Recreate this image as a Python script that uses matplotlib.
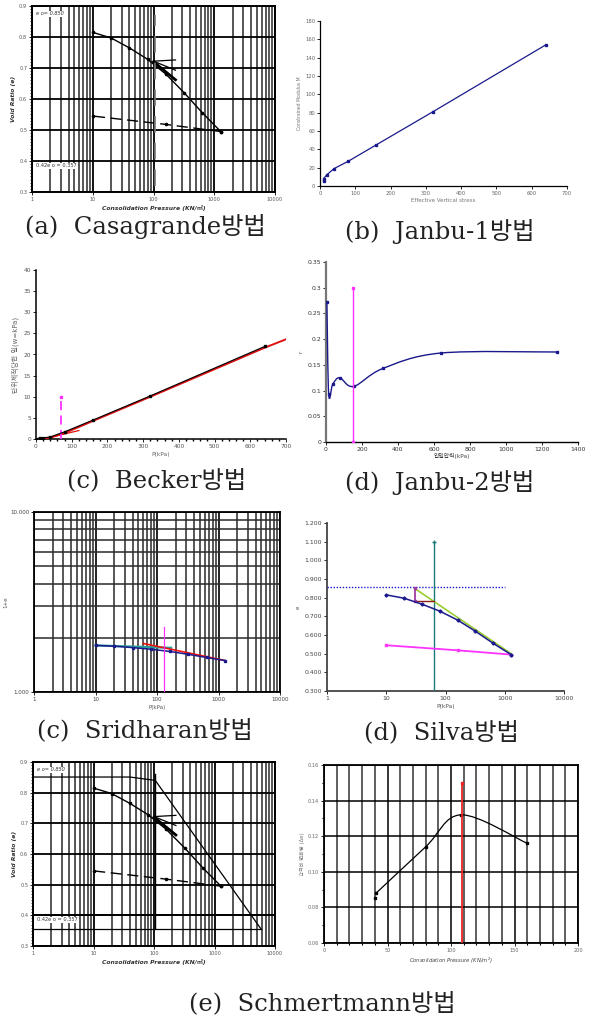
"""Eight-panel comparison of preconsolidation pressure methods (Korean captions)."""

import matplotlib

matplotlib.use("Agg")
import matplotlib.pyplot as plt  # noqa: E402
import numpy as np  # noqa: E402
from matplotlib.patches import PathPatch  # noqa: E402
from matplotlib.path import Path  # noqa: E402
from matplotlib.ticker import FixedLocator, MultipleLocator, NullFormatter  # noqa: E402

W, H = 589, 1022
CAP_FONT = ["DejaVu Serif", "Noto Sans CJK KR"]
SMALL_FONT = ["DejaVu Sans", "Noto Sans CJK KR"]

# ---------------------------------------------------------------
# data
# ---------------------------------------------------------------
# oedometer loading branch (used by Casagrande, Silva, Schmertmann)
load_p = [10, 20, 40, 80, 160, 320, 640, 1280]
load_e = [0.815, 0.797, 0.765, 0.728, 0.680, 0.620, 0.555, 0.495]
unload_p = [1280, 160, 10]
unload_e = [0.495, 0.518, 0.545]

# Casagrande construction
cas_p = [100, 230]
cas_horiz = [0.722, 0.726]
cas_tangent = [0.722, 0.693]
cas_bisect = [0.722, 0.662]

# Schmertmann reconstructed line
sch_p = [1, 40, 105, 5800]
sch_e = [0.851, 0.851, 0.840, 0.357]

# Janbu-1: constrained modulus
jb1_p = [10, 10, 20, 40, 80, 160, 320, 640]
jb1_m = [5, 8, 12.5, 19, 27, 45, 81, 154]

# Becker: work per unit volume
bk_p = [0, 10, 20, 40, 80, 160, 320, 640]
bk_w = [0.0, 0.2, 0.25, 0.5, 1.7, 4.5, 10.2, 21.9]
bk_fit_p = [0, 40, 80, 160, 320, 640, 700]
bk_fit_w = [0.0, 0.3, 1.4, 4.3, 10.0, 21.6, 23.6]
bk_low_p = [30, 120]
bk_low_w = [0.2, 2.0]
bk_pc = 70

# Janbu-2: resistance number r
jb2_p = [5, 15, 37, 76, 153, 316, 638, 1281]
jb2_r = [0.272, 0.093, 0.112, 0.125, 0.108, 0.143, 0.173, 0.175]
jb2_pc = 150

# Sridharan: 1+e
sri_p = load_p
sri_1e = [1 + e for e in load_e]
sri_red_p = [60, 1280]
sri_red_1e = [1.86, 1.495]
sri_teal_p = [10, 170]
sri_teal_1e = [1.815, 1.76]
sri_pc = 130

# Silva construction
sil_e0 = 0.855
sil_green_p = [30, 1280]
sil_green_e = [0.850, 0.500]
sil_pc = 65

# Schmertmann second plot
sc2_p = [40, 41, 80, 108, 160]
sc2_de = [0.085, 0.088, 0.114, 0.132, 0.116]
sc2_pc = 109


def add_ax(x0, y0, x1, y1):
    return fig.add_axes([x0 / W, 1 - y1 / H, (x1 - x0) / W, (y1 - y0) / H])


def smooth(ax, x, y, **kw):
    """Catmull-Rom curve through the data points, drawn as bezier path."""
    pts = np.column_stack([x, y]).astype(float)
    n = len(pts)
    verts = [pts[0]]
    codes = [Path.MOVETO]
    for i in range(n - 1):
        p0 = pts[max(i - 1, 0)]
        p1 = pts[i]
        p2 = pts[i + 1]
        p3 = pts[min(i + 2, n - 1)]
        verts += [p1 + (p2 - p0) / 6, p2 - (p3 - p1) / 6, p2]
        codes += [Path.CURVE4] * 3
    ax.add_patch(PathPatch(Path(verts, codes), fill=False, **kw))


def tick_style(ax, size=4.2, color="#555555"):
    ax.tick_params(labelsize=size, labelcolor=color, length=2, width=0.6,
                   pad=1.5)
    for lab in ax.get_xticklabels() + ax.get_yticklabels():
        lab.set_family(SMALL_FONT)


def casagrande(ax, schmertmann=False):
    ax.set_xscale("log")
    ax.set_xlim(1, 10000)
    ax.set_ylim(0.3, 0.9)
    ax.xaxis.set_major_locator(FixedLocator([1, 10, 100, 1000, 10000]))
    ax.set_xticklabels(["1", "10", "100", "1000", "10000"])
    ax.xaxis.set_minor_formatter(NullFormatter())
    ax.yaxis.set_major_locator(MultipleLocator(0.1))
    ax.yaxis.set_minor_locator(MultipleLocator(0.01))
    ax.set_yticks(np.round(np.arange(0.3, 0.91, 0.1), 1))
    ax.set_yticklabels([f"{v:.1f}" for v in np.arange(0.3, 0.91, 0.1)])
    ax.grid(which="major", color="black", lw=1.3)
    ax.grid(which="minor", axis="x", color="#3a3a3a", lw=1.2)
    ax.tick_params(which="minor", axis="y", length=1.5, width=0.5)
    ax.tick_params(which="minor", axis="x", length=0)
    for s in ax.spines.values():
        s.set_linewidth(1.4)
    tick_style(ax, 3.6)
    ax.set_xlabel("Consolidation Pressure (KN/㎡)", fontsize=4.3,
                  style="italic", weight="bold", color="#333",
                  family=SMALL_FONT, labelpad=2)
    ax.set_ylabel("Void Ratio (e)", fontsize=4.3, style="italic",
                  weight="bold", color="#333", labelpad=2)
    ax.plot(load_p, load_e, color="black", lw=1.0, marker="o", ms=1.6,
            zorder=4)
    ax.plot(unload_p, unload_e, color="black", lw=1.0, ls=(0, (8, 4)),
            marker="o", ms=1.6, zorder=4)
    ax.plot(cas_p, cas_horiz, color="black", lw=0.9, zorder=4)
    ax.plot(cas_p, cas_tangent, color="black", lw=0.9, zorder=4)
    ax.plot(cas_p, cas_bisect, color="black", lw=0.9, zorder=4)
    ax.plot([100, 230], [0.72, 0.662], color="black", lw=2.0, zorder=4)
    ax.text(1.15, 0.875, "e o= 0.850", fontsize=3.6, color="#333",
            style="italic", va="center", zorder=5,
            bbox=dict(fc="white", ec="none", pad=0.3))
    ax.text(1.15, 0.385, "0.42e o = 0.357", fontsize=3.6, color="#333",
            va="center", zorder=5,
            bbox=dict(fc="white", ec="none", pad=0.3))
    if schmertmann:
        ax.plot(sch_p, sch_e, color="black", lw=0.9, zorder=4)
        ax.plot([1, 5800], [0.357, 0.357], color="black", lw=0.9, zorder=4)
        ax.plot([105, 105], [0.36, 0.862], color="black", lw=1.0, zorder=4)
    else:
        ax.plot([105, 105], [0.32, 0.87], color="#777777", lw=1.2,
                ls=(0, (10, 6)), zorder=4)


fig = plt.figure(figsize=(W / 100, H / 100), dpi=100)
fig.patch.set_facecolor("white")

# ---------------------------------------------------------------
# (a) Casagrande
# ---------------------------------------------------------------
ax_a = add_ax(32, 6, 275, 192)
casagrande(ax_a)

# ---------------------------------------------------------------
# (b) Janbu-1
# ---------------------------------------------------------------
ax_b = add_ax(320, 21, 567, 186)
ax_b.plot(jb1_p, jb1_m, color="#1a1a8c", lw=0.9, marker="s", ms=1.6)
ax_b.set_xlim(0, 700)
ax_b.set_ylim(0, 180)
ax_b.xaxis.set_major_locator(MultipleLocator(100))
ax_b.yaxis.set_major_locator(MultipleLocator(20))
for s in ("top", "right"):
    ax_b.spines[s].set_visible(False)
for s in ("left", "bottom"):
    ax_b.spines[s].set_linewidth(0.9)
tick_style(ax_b, 3.8, "#666666")
ax_b.set_xlabel("Effective Vertical stress", fontsize=4.0, color="#777",
                labelpad=1.5)
ax_b.set_ylabel("Constrained Modulus M", fontsize=3.3, color="#777",
                labelpad=2)

# ---------------------------------------------------------------
# (c) Becker
# ---------------------------------------------------------------
ax_c = add_ax(36, 270, 286, 439)
ax_c.plot(bk_fit_p, bk_fit_w, color="#dd1111", lw=1.4, zorder=3)
ax_c.plot(bk_low_p, bk_low_w, color="#dd1111", lw=0.9, zorder=3)
ax_c.plot(bk_p, bk_w, color="black", lw=0.8, marker="s", ms=1.8, zorder=4)
ax_c.plot([bk_pc, bk_pc], [0, 10], color="#ff33ff", lw=1.3,
          ls=(0, (5, 3)), zorder=3)
ax_c.plot([bk_pc], [10], color="#ff33ff", marker="s", ms=1.8, zorder=4)
ax_c.set_xlim(0, 700)
ax_c.set_ylim(0, 40)
ax_c.xaxis.set_major_locator(MultipleLocator(100))
ax_c.xaxis.set_minor_locator(MultipleLocator(20))
ax_c.yaxis.set_major_locator(MultipleLocator(5))
ax_c.tick_params(which="minor", length=1.5, width=1.0)
for s in ("top", "right"):
    ax_c.spines[s].set_visible(False)
for s in ("left", "bottom"):
    ax_c.spines[s].set_linewidth(1.1)
tick_style(ax_c, 4.2, "#555555")
ax_c.set_xlabel("P(kPa)", fontsize=4.2, color="#666", labelpad=2)
ax_c.set_ylabel("단위체적당한 일(w=kPa)", fontsize=5.0, color="#666",
                family=SMALL_FONT, labelpad=3)

# ---------------------------------------------------------------
# (d) Janbu-2
# ---------------------------------------------------------------
ax_d = add_ax(326, 262, 578, 442)
smooth(ax_d, jb2_p, jb2_r, edgecolor="#1a1a8c", lw=1.0, zorder=3)
ax_d.plot(jb2_p, jb2_r, ls="none", color="#1a1a8c", marker="s", ms=1.8,
          zorder=4)
ax_d.plot([jb2_pc, jb2_pc], [0, 0.3], color="#ff33ff", lw=1.0,
          marker="s", ms=2.0, zorder=4)
ax_d.set_xlim(0, 1400)
ax_d.set_ylim(0, 0.35)
ax_d.xaxis.set_major_locator(MultipleLocator(200))
ax_d.set_yticks(np.round(np.arange(0, 0.351, 0.05), 2))
ax_d.set_yticklabels(["0", "0.05", "0.1", "0.15", "0.2", "0.25", "0.3",
                      "0.35"])
for s in ("top", "right"):
    ax_d.spines[s].set_visible(False)
ax_d.spines["left"].set_linewidth(1.6)
ax_d.spines["left"].set_color("#777777")
ax_d.spines["bottom"].set_linewidth(1.0)
tick_style(ax_d, 4.4, "#333333")
ax_d.set_xlabel("압밀압력(kPa)", fontsize=4.2, color="#444",
                family=SMALL_FONT, labelpad=1)
ax_d.set_ylabel("r", fontsize=4.0, color="#444", labelpad=3)

# ---------------------------------------------------------------
# (c) Sridharan
# ---------------------------------------------------------------
ax_s = add_ax(34, 512, 280, 692)
ax_s.set_xscale("log")
ax_s.set_yscale("log")
ax_s.set_xlim(1, 10000)
ax_s.set_ylim(1, 10)
ax_s.grid(which="major", color="black", lw=1.2)
ax_s.grid(which="minor", color="#2a2a2a", lw=1.1)
ax_s.xaxis.set_major_locator(FixedLocator([1, 10, 100, 1000, 10000]))
ax_s.set_xticklabels(["1", "10", "100", "1000", "10000"])
ax_s.xaxis.set_minor_formatter(NullFormatter())
ax_s.yaxis.set_major_locator(FixedLocator([1, 10]))
ax_s.set_yticklabels(["1.000", "10.000"])
ax_s.yaxis.set_minor_formatter(NullFormatter())
ax_s.tick_params(which="both", length=0)
for s in ax_s.spines.values():
    s.set_linewidth(1.3)
ax_s.plot(sri_teal_p, sri_teal_1e, color="#2aa198", lw=1.6, zorder=3)
ax_s.plot(sri_red_p, sri_red_1e, color="#ee1111", lw=1.2, zorder=3)
ax_s.plot(sri_p, sri_1e, color="#1a1a8c", lw=1.1, marker="s", ms=1.8,
          zorder=4)
ax_s.plot([sri_pc, sri_pc], [1, 2.3], color="#ff33ff", lw=0.9, zorder=4)
tick_style(ax_s, 4.0, "#444444")
ax_s.set_xlabel("P(kPa)", fontsize=4.0, color="#555", labelpad=2)
ax_s.set_ylabel("1+e", fontsize=4.0, color="#555", labelpad=1)

# ---------------------------------------------------------------
# (d) Silva
# ---------------------------------------------------------------
ax_v = add_ax(327, 523, 564, 691)
ax_v.set_xscale("log")
ax_v.set_xlim(1, 10000)
ax_v.set_ylim(0.3, 1.2)
ax_v.xaxis.set_major_locator(FixedLocator([1, 10, 100, 1000, 10000]))
ax_v.set_xticklabels(["1", "10", "100", "1000", "10000"])
ax_v.xaxis.set_minor_formatter(NullFormatter())
ax_v.tick_params(which="minor", length=0)
ax_v.set_yticks(np.round(np.arange(0.3, 1.201, 0.1), 1))
ax_v.set_yticklabels([f"{v:.3f}" for v in np.arange(0.3, 1.201, 0.1)])
for s in ("top", "right"):
    ax_v.spines[s].set_visible(False)
for s in ("left", "bottom"):
    ax_v.spines[s].set_linewidth(1.3)
    ax_v.spines[s].set_color("#444444")
ax_v.plot([1, 1000], [sil_e0, sil_e0], color="#1a1acc", lw=1.0,
          ls=(0, (1, 1.2)), zorder=3)
ax_v.plot([sil_pc, sil_pc], [0.3, 1.1], color="#1a7a7a", lw=1.0,
          marker="+", markevery=[1], ms=3, zorder=3)
ax_v.plot(sil_green_p, sil_green_e, color="#9acd32", lw=1.2, zorder=3)
ax_v.plot([30, sil_pc], [0.78, 0.78], color="#8b1a1a", lw=1.0, zorder=3)
ax_v.plot([30, 30], [0.78, 0.85], color="#a03ca0", lw=1.3, marker="s",
          ms=1.8, zorder=4)
ax_v.plot(unload_p, unload_e, color="#ff33ff", lw=1.3, marker="s", ms=2.0,
          zorder=4)
ax_v.plot(load_p, load_e, color="#1a1a8c", lw=1.1, marker="D", ms=1.6,
          zorder=5)
tick_style(ax_v, 4.4, "#444444")
ax_v.set_xlabel("P(kPa)", fontsize=4.2, color="#555", labelpad=2)
ax_v.set_ylabel("e", fontsize=4.0, color="#555", labelpad=3)

# ---------------------------------------------------------------
# (e) Schmertmann
# ---------------------------------------------------------------
ax_e1 = add_ax(33, 762, 275, 946)
casagrande(ax_e1, schmertmann=True)
ax_e1.axhline(0.4, color="black", lw=1.3)

ax_e2 = add_ax(324, 765, 578, 943)
ax_e2.set_xlim(0, 200)
ax_e2.set_ylim(0.06, 0.16)
ax_e2.xaxis.set_major_locator(MultipleLocator(50))
ax_e2.xaxis.set_minor_locator(MultipleLocator(10))
ax_e2.yaxis.set_major_locator(MultipleLocator(0.02))
ax_e2.yaxis.set_minor_locator(MultipleLocator(0.01))
ax_e2.set_yticklabels([f"{v:.2f}" for v in ax_e2.get_yticks()])
ax_e2.grid(which="major", color="black", lw=1.1)
ax_e2.grid(which="minor", axis="x", color="#333333", lw=1.1)
ax_e2.tick_params(which="minor", length=1.5, width=0.8)
for s in ax_e2.spines.values():
    s.set_linewidth(1.3)
smooth(ax_e2, sc2_p[1:], sc2_de[1:], edgecolor="black", lw=0.9, zorder=3)
ax_e2.plot(sc2_p, sc2_de, ls="none", color="black", marker="s", ms=1.8,
           zorder=4)
ax_e2.plot([sc2_pc, sc2_pc], [0.06, 0.15], color="#ee2222", lw=1.3,
           zorder=4)
ax_e2.plot([sc2_pc], [0.15], color="#ee2222", marker="s", ms=1.8, zorder=4)
tick_style(ax_e2, 3.6, "#666666")
ax_e2.set_xlabel("Consolidation Pressure (KN/m$^{2}$)", fontsize=3.8,
                 style="italic", color="#444", labelpad=2)
ax_e2.set_ylabel("간극비 변화량 (Δe)", fontsize=3.8, color="#777",
                 family=SMALL_FONT, labelpad=2)

# ---------------------------------------------------------------
# captions
# ---------------------------------------------------------------
captions = [
    ("(a)  Casagrande방법", 145, 226),
    ("(b)  Janbu-1방법", 440, 231),
    ("(c)  Becker방법", 157, 480),
    ("(d)  Janbu-2방법", 440, 482),
    ("(c)  Sridharan방법", 145, 730),
    ("(d)  Silva방법", 442, 732),
    ("(e)  Schmertmann방법", 322, 1003),
]
for text, cx, cy in captions:
    fig.text(cx / W, 1 - cy / H, text, fontsize=17.5, family=CAP_FONT,
             ha="center", va="center", color="#222222")

fig.savefig("out.png", dpi=100)
plt.close(fig)
